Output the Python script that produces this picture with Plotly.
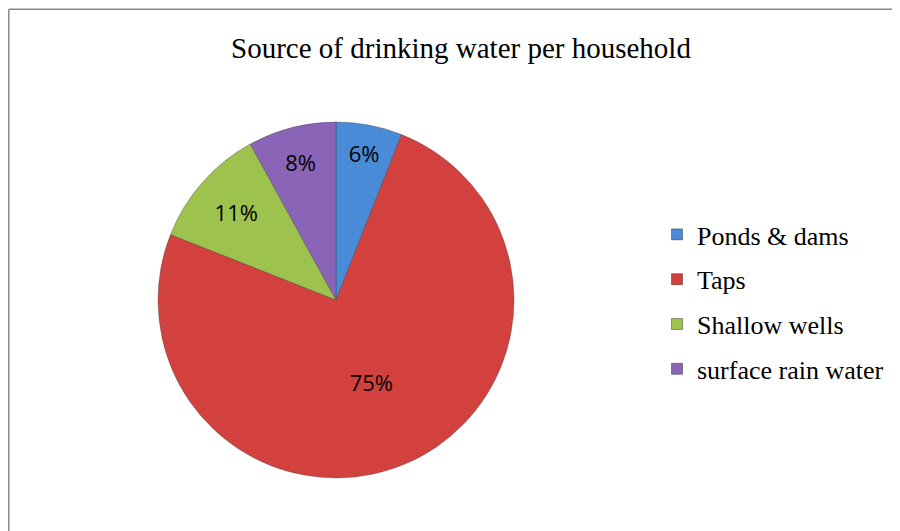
import plotly.graph_objects as go

title = "Source of drinking water per household"
categories = ["Ponds & dams", "Taps", "Shallow wells", "surface rain water"]
values = [6, 75, 11, 8]
colors = ["#4A8BD8", "#D2413E", "#9EC24E", "#8A64B6"]

# The page puts the figure 8px in from the top-left corner.
W, H = 892, 523
cx, cy, R = 328, 292, 178  # pie centre and radius in figure pixels

fig = go.Figure()
fig.add_trace(go.Pie(
    labels=categories, values=values, sort=False, direction="clockwise",
    rotation=0, marker=dict(colors=colors, line=dict(color="rgba(60,60,60,0.6)", width=0.6)),
    textinfo="percent", textposition="inside", insidetextorientation="horizontal",
    textfont=dict(family="Open Sans, Liberation Sans, sans-serif", size=22, color="#000000"),
    domain=dict(x=[(cx - R) / W, (cx + R) / W], y=[(H - cy - R) / H, (H - cy + R) / H]),
    showlegend=False, hoverinfo="label+percent",
))

for i, (c, col) in enumerate(zip(categories, colors)):
    fig.add_trace(go.Scatter(
        x=[None], y=[None], mode="markers", name=c, legendgroup=f"g{i}",
        marker=dict(symbol="square", size=11, color=col, line=dict(color="rgba(0,0,0,0.35)", width=1)),
        showlegend=True,
    ))

border = dict(color="#878787", width=1.5)
fig.update_layout(
    width=W, height=H,
    margin=dict(l=0, r=0, t=0, b=0),
    paper_bgcolor="white", plot_bgcolor="white",
    title=dict(text=title, x=453 / W, xanchor="center", y=1 - 40 / H, yanchor="middle",
               font=dict(family="Liberation Serif, Times New Roman, serif", size=29, color="#000000")),
    xaxis=dict(visible=False), yaxis=dict(visible=False),
    legend=dict(x=649 / W, xanchor="left", y=1 - 294 / H, yanchor="middle",
                font=dict(family="Liberation Serif, Times New Roman, serif", size=26, color="#000000"),
                tracegroupgap=8, itemwidth=30, bgcolor="rgba(0,0,0,0)"),
    shapes=[
        dict(type="line", xref="paper", yref="paper", x0=0.8 / W, x1=1.0, y0=1 - 1.2 / H, y1=1 - 1.2 / H,
             line=border, layer="above"),
        dict(type="line", xref="paper", yref="paper", x0=0.8 / W, x1=0.8 / W, y0=0, y1=1 - 1.2 / H,
             line=border, layer="above"),
    ],
)

fig.write_html("out.html")
